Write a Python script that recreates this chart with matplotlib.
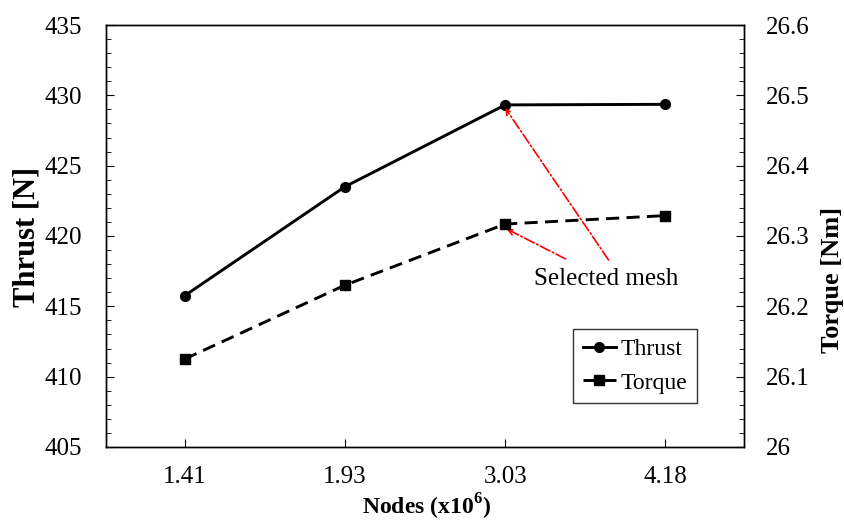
import numpy as np
import matplotlib
matplotlib.use("Agg")
import matplotlib.pyplot as plt
from matplotlib.ticker import MultipleLocator, FormatStrFormatter

plt.rcParams['font.family'] = ['Liberation Serif', 'DejaVu Serif']
plt.rcParams['mathtext.fontset'] = 'custom'
plt.rcParams['mathtext.rm'] = 'Liberation Serif'
plt.rcParams['mathtext.bf'] = 'Liberation Serif:bold'

# data
nodes = ['1.41', '1.93', '3.03', '4.18']
thrust = [415.75, 423.5, 429.32, 429.36]
torque = [26.125, 26.230, 26.317, 26.329]

# selected mesh annotation (in thrust axis units)
note_text = 'Selected mesh'
note_pos = (2.63, 416.95)
arrow_heads = [(2.0, 429.1), (2.01, 420.5)]
arrow_tails = [(2.645, 418.3), (2.377, 418.37)]

fig = plt.figure(figsize=(8.44, 5.22), dpi=100)
ax1 = fig.add_axes([0.1256, 0.1437, 0.7559, 0.8084])
ax2 = ax1.twinx()

xpos = np.arange(len(nodes))

l1, = ax1.plot(xpos, thrust, color='black', lw=2.1, marker='o', ms=7, label='Thrust')
l2, = ax2.plot(xpos, torque, color='black', lw=2.1, marker='s', ms=6.5,
               dashes=(4.5, 2.5), label='Torque')

ax1.set_xlim(-0.49, 3.49)
ax1.set_ylim(405, 435)
ax2.set_ylim(26, 26.6)

ax1.set_xticks(xpos)
ax1.set_xticklabels(nodes)
ax1.yaxis.set_major_locator(MultipleLocator(5))
ax1.yaxis.set_minor_locator(MultipleLocator(1))
ax2.yaxis.set_major_locator(MultipleLocator(0.1))
ax2.yaxis.set_minor_locator(MultipleLocator(0.02))
ax2.yaxis.set_major_formatter(FormatStrFormatter('%g'))

ax1.tick_params(axis='x', which='major', direction='in', length=6, pad=14,
                labelsize=18, top=False)
ax1.tick_params(axis='y', which='major', direction='in', length=6, pad=17,
                labelsize=18)
ax1.tick_params(axis='y', which='minor', direction='in', length=3.5)
ax2.tick_params(axis='y', which='major', direction='in', length=6, pad=16,
                labelsize=18)
ax2.tick_params(axis='y', which='minor', direction='in', length=3.5)

for ax in (ax1, ax2):
    for sp in ax.spines.values():
        sp.set_linewidth(1.0)

# axis titles placed in figure pixels as in the reference
fig.text(426 / 844, 1 - 507 / 522, r'Nodes (x10$^{\mathbf{6}}$)', fontsize=17,
         fontweight='bold', ha='center', va='center')
fig.text(27 / 844, 1 - 237 / 522, 'Thrust [N]', fontsize=22, fontweight='bold',
         rotation=90, ha='center', va='center')
fig.text(832 / 844, 1 - 280 / 522, 'Torque [Nm]', fontsize=19, fontweight='bold',
         rotation=90, ha='center', va='center')

for head, tail in zip(arrow_heads, arrow_tails):
    ax1.annotate('', xy=head, xytext=tail,
                 arrowprops=dict(arrowstyle='->', color='red', linestyle='-.',
                                 lw=1.2, shrinkA=0, shrinkB=0))
ax1.text(note_pos[0], note_pos[1], note_text, fontsize=18, ha='center', va='center')

leg = ax2.legend(handles=[l1, l2], loc='lower right', bbox_to_anchor=(0.926, 0.104),
                 borderaxespad=0, fontsize=17, fancybox=False, framealpha=1,
                 edgecolor='#333333', handlelength=1.4, handletextpad=0.2,
                 borderpad=0.4, labelspacing=0.5)
leg.get_frame().set_linewidth(1.0)

fig.savefig('out.png', dpi=100)
